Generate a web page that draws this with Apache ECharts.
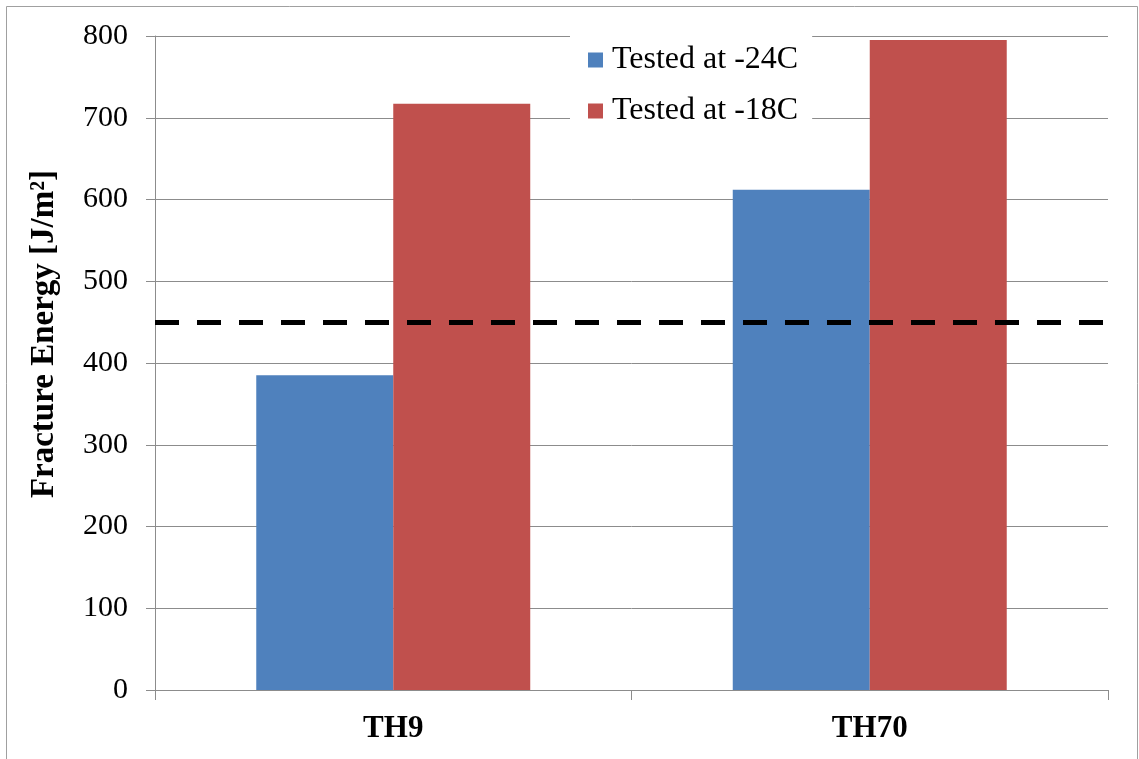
<!DOCTYPE html>
<html>
<head>
<meta charset="utf-8">
<script src="https://cdn.jsdelivr.net/npm/echarts@6/dist/echarts.min.js"></script>
<style>
  html, body { margin: 0; padding: 0; background: #fff; }
  #chart { width: 1139px; height: 759px; }
</style>
</head>
<body>
<div id="chart"></div>
<script>
const categories = ['TH9', 'TH70'];
const seriesNames = ['Tested at -24C', 'Tested at -18C'];
const tested24 = [385, 612];
const tested18 = [717, 795];
const referenceLevel = 450;
const yTicks = { min: 0, max: 800, interval: 100 };

const chart = echarts.init(document.getElementById('chart'), null, { renderer: 'canvas' });
const serif = '"Liberation Serif", "Times New Roman", serif';
const gridGray = '#8c8c8c';

chart.setOption({
  animation: false,
  backgroundColor: '#ffffff',
  grid: { left: 155, right: 31, top: 36, bottom: 69, containLabel: false },
  legend: {
    orient: 'vertical',
    left: 570,
    top: 30,
    padding: [14, 14, 14, 18],
    backgroundColor: '#ffffff',
    itemWidth: 15,
    itemHeight: 15,
    itemGap: 19,
    icon: 'rect',
    textStyle: { fontFamily: serif, fontSize: 32, color: '#000', padding: [0, 0, 0, 4] },
    data: seriesNames
  },
  graphic: [
    {
      type: 'rect', silent: true, z: -1,
      shape: { x: 6.5, y: 6.5, width: 1131, height: 780 },
      style: { fill: 'none', stroke: '#a0a0a0', lineWidth: 1 }
    },
    {
      type: 'text', x: 44, y: 334, rotation: Math.PI / 2,
      style: {
        text: 'Fracture Energy [J/m²]',
        fontFamily: serif, fontSize: 33, fontWeight: 'bold', fill: '#000',
        textAlign: 'center', textVerticalAlign: 'middle'
      }
    }
  ],
  xAxis: {
    type: 'category',
    data: categories,
    axisLine: { show: true, lineStyle: { color: gridGray, width: 1 } },
    axisTick: { show: true, alignWithLabel: false, length: 10, interval: 0, lineStyle: { color: gridGray } },
    axisLabel: { fontFamily: serif, fontSize: 31, fontWeight: 'bold', color: '#000', margin: 23 },
    splitLine: { show: false }
  },
  yAxis: {
    type: 'value',
    min: yTicks.min, max: yTicks.max, interval: yTicks.interval,
    axisLine: { show: true, lineStyle: { color: gridGray, width: 1 } },
    axisTick: { show: true, inside: false, length: 9, lineStyle: { color: gridGray } },
    axisLabel: { fontFamily: serif, fontSize: 30, color: '#000', margin: 27 },
    splitLine: { show: true, lineStyle: { color: gridGray, width: 1 } }
  },
  series: [
    {
      name: seriesNames[0], type: 'bar', data: tested24,
      itemStyle: { color: '#4F81BD' },
      barGap: '0%', barCategoryGap: '42.5%',
      markLine: {
        silent: true, symbol: ['none', 'none'],
        label: { show: false },
        lineStyle: { color: '#000', width: 5, type: [24, 18] },
        data: [{ yAxis: referenceLevel }]
      }
    },
    {
      name: seriesNames[1], type: 'bar', data: tested18,
      itemStyle: { color: '#C0504D' },
      barGap: '0%', barCategoryGap: '42.5%'
    }
  ]
});
</script>
</body>
</html>
